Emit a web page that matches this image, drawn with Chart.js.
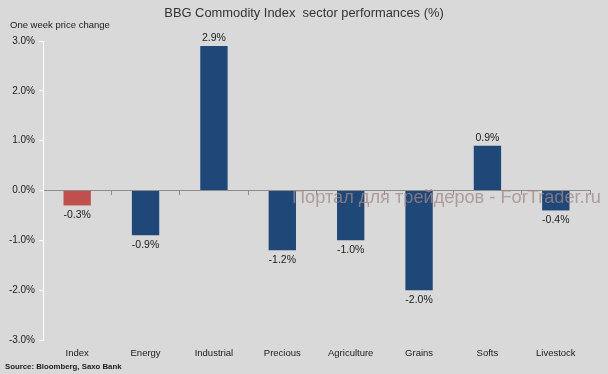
<!DOCTYPE html>
<html>
<head>
<meta charset="utf-8">
<script src="https://cdn.jsdelivr.net/npm/chart.js@4"></script>
<style>
  html, body { margin: 0; padding: 0; background: #d9d9d9; }
  #wrap { width: 608px; height: 374px; position: relative; }
</style>
</head>
<body>
<div id="wrap"><canvas id="sectorChart"></canvas></div>
<script>
const sectors = ["Index", "Energy", "Industrial", "Precious", "Agriculture", "Grains", "Softs", "Livestock"];
const weekChange = [-0.3, -0.9, 2.9, -1.2, -1.0, -2.0, 0.9, -0.4];
const barColors = ["#c0504d", "#1f4778", "#1f4778", "#1f4778", "#1f4778", "#1f4778", "#1f4778", "#1f4778"];
const yTicks = [-3, -2, -1, 0, 1, 2, 3];

const FONT = "'Liberation Sans', Arial, sans-serif";

// titles, source line, watermark and value labels
const textPlugin = {
  id: "texts",
  afterDatasetsDraw(chart) {
    const ctx = chart.ctx;
    const meta = chart.getDatasetMeta(0);
    ctx.save();
    ctx.fillStyle = "#1a1a1a";
    ctx.font = "10.5px " + FONT;
    ctx.textAlign = "center";
    ctx.textBaseline = "middle";
    meta.data.forEach((bar, i) => {
      const v = weekChange[i];
      const y = v >= 0 ? bar.y - 8 : bar.y + 10;
      ctx.fillText(v.toFixed(1) + "%", bar.x, y);
    });

    ctx.fillStyle = "#333";
    ctx.font = "12.9px " + FONT;
    ctx.fillText("BBG Commodity Index  sector performances (%)", 304, 13);

    ctx.textAlign = "left";
    ctx.font = "9.5px " + FONT;
    ctx.fillStyle = "#1a1a1a";
    ctx.fillText("One week price change", 10, 25);

    ctx.font = "bold 7.8px " + FONT;
    ctx.fillText("Source: Bloomberg, Saxo Bank", 5, 367);

    ctx.font = "18.2px " + FONT;
    ctx.fillStyle = "rgba(160, 135, 135, 0.75)";
    ctx.fillText("Портал для трейдеров - ForTrader.ru", 292, 198);
    ctx.restore();
  },
};

new Chart(document.getElementById("sectorChart"), {
  type: "bar",
  data: {
    labels: sectors,
    datasets: [
      {
        data: weekChange,
        backgroundColor: barColors,
        borderWidth: 0,
        barPercentage: 0.4,
        categoryPercentage: 1,
      },
    ],
  },
  options: {
    responsive: true,
    maintainAspectRatio: false,
    animation: false,
    layout: { padding: { top: 41, right: 18, left: 0, bottom: 0 } },
    plugins: { legend: { display: false }, tooltip: { enabled: false } },
    scales: {
      x: {
        position: "bottom",
        grid: { display: false },
        border: { display: false },
        ticks: { color: "#1a1a1a", font: { family: FONT, size: 9.5 }, padding: 0 },
        afterFit(scale) { scale.height = 34; },
      },
      x2: {
        type: "category",
        position: { y: 0 },
        offset: true,
        grid: { offset: true, drawOnChartArea: false, drawTicks: true, tickLength: 4, color: "#8c8c8c" },
        border: { color: "#8c8c8c", width: 1 },
        ticks: { display: false },
      },
      y: {
        min: -3,
        max: 3,
        afterBuildTicks(scale) { scale.ticks = yTicks.map((v) => ({ value: v })); },
        grid: { drawOnChartArea: false, drawTicks: true, tickLength: 4, color: "#ffffff" },
        border: { color: "#ffffff", width: 1 },
        ticks: {
          color: "#1a1a1a",
          font: { family: FONT, size: 10 },
          padding: 4,
          callback: (v) => v.toFixed(1) + "%",
        },
        afterFit(scale) { scale.width = 43; },
      },
    },
  },
  plugins: [textPlugin],
});
</script>
</body>
</html>
